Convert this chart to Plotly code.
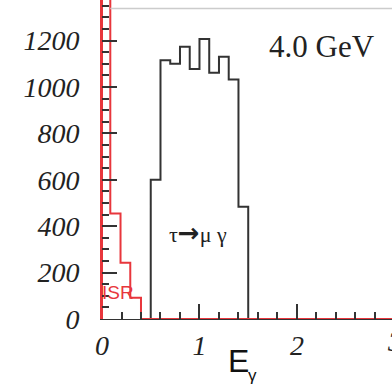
import plotly.graph_objects as go

# tau -> mu gamma signal: photon energy histogram (GeV), 0.1 GeV bins
sig_edges = [0.5, 0.6, 0.7, 0.8, 0.9, 1.0, 1.1, 1.2, 1.3, 1.4, 1.5]
sig_counts = [600, 1115, 1100, 1173, 1077, 1206, 1061, 1130, 1032, 484]

# ISR background histogram (first bin runs off scale)
isr_edges = [0.0, 0.085, 0.19, 0.29, 0.40, 3.0]
isr_counts = [3000, 455, 242, 92, 0]

y_ticks = [0, 200, 400, 600, 800, 1000, 1200]
x_ticks = [0, 1, 2, 3]

RED = "#e8363c"
DARK = "#333333"
SERIF = "Liberation Serif, Times New Roman, serif"
SANS = "Liberation Sans, Arial, sans-serif"


def step_xy(edges, counts):
    xs = [edges[0]] + list(edges)
    ys = [0] + list(counts) + [0]
    return xs, ys


fig = go.Figure()

sx, sy = step_xy(sig_edges, sig_counts)
fig.add_trace(go.Scatter(x=sx, y=sy, mode="lines", line=dict(shape="hv", color=DARK, width=2),
                         hoverinfo="skip", showlegend=False))

ix, iy = step_xy(isr_edges, isr_counts)
fig.add_trace(go.Scatter(x=ix, y=iy, mode="lines", line=dict(shape="hv", color=RED, width=2),
                         hoverinfo="skip", showlegend=False))

tick_font = dict(family=SERIF, size=28, color="#222222", style="italic")

decay_label = ("τ<span style='font-family:DejaVu Sans;font-size:26px;font-weight:bold'>→</span>"
               "μ γ")

fig.update_layout(
    width=392, height=387,
    margin=dict(l=102, r=0, t=0, b=68),
    paper_bgcolor="white", plot_bgcolor="white",
    xaxis=dict(
        range=[0, 2.975], tickvals=x_ticks, ticktext=[str(v) for v in x_ticks],
        ticks="inside", ticklen=15, tickwidth=1.5, tickcolor=DARK,
        minor=dict(dtick=0.2, tick0=0, ticks="inside", ticklen=7, tickwidth=1.5, tickcolor=DARK),
        showline=True, linecolor=DARK, linewidth=1, showgrid=False, zeroline=False,
        tickfont=tick_font, ticklabelstandoff=1,
    ),
    yaxis=dict(
        range=[0, 1374.5], tickvals=y_ticks, ticktext=[str(v) for v in y_ticks],
        ticks="inside", ticklen=15, tickwidth=1.5, tickcolor=DARK,
        minor=dict(dtick=50, tick0=0, ticks="inside", ticklen=7, tickwidth=1.5, tickcolor=DARK),
        showline=True, linecolor=RED, linewidth=2, showgrid=False, zeroline=False,
        tickfont=tick_font, ticklabelstandoff=15,
    ),
    shapes=[
        dict(type="line", xref="x", yref="y", x0=0.085, x1=2.975, y0=1338, y1=1338,
             line=dict(color="#cccccc", width=1.5)),
    ],
    annotations=[
        dict(text="4.0 GeV", x=2.258, y=1174, xref="x", yref="y", showarrow=False,
             font=dict(family=SERIF, size=31, color="#222222"), xanchor="center", yanchor="middle"),
        dict(text=decay_label, x=(167 - 101.8) / 97.5, y=372, xref="x", yref="y", showarrow=False,
             font=dict(family=SERIF, size=22, color="#222222"), xanchor="left", yanchor="middle"),
        dict(text="ISR", x=0.167, y=114, xref="x", yref="y", showarrow=False,
             font=dict(family=SANS, size=19, color=RED), xanchor="center", yanchor="middle"),
        dict(text="E", x=(226 - 102) / 290, y=-(361 - 319) / 319, xref="paper", yref="paper",
             showarrow=False, font=dict(family=SANS, size=32, color="#111111"),
             xanchor="left", yanchor="middle"),
        dict(text="γ", x=(246 - 102) / 290, y=-(375 - 319) / 319, xref="paper", yref="paper",
             showarrow=False, font=dict(family=SANS, size=17, color="#111111"),
             xanchor="left", yanchor="middle"),
        dict(text="3", x=(394.3 - 102) / 290, y=-22 / 319, xref="paper", yref="paper",
             showarrow=False, font=tick_font, xanchor="center", yanchor="middle"),
    ],
)

fig.write_html("out.html")
